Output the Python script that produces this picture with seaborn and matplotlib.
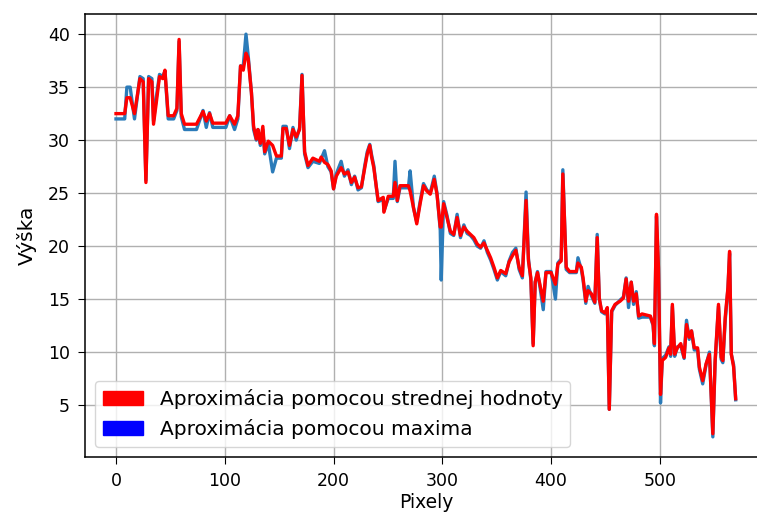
import matplotlib
matplotlib.use("Agg")
import matplotlib.pyplot as plt
import matplotlib.patches as mpatches
import seaborn as sns
import pandas as pd

x_pix = [
    0, 8, 10, 13, 17, 22, 25, 27.5, 30, 33,
    34.5, 37, 40, 43, 45, 48, 53, 56, 58, 60,
    63, 74, 80, 83, 86, 89, 101, 104.5, 109, 112,
    114.5, 117, 119.5, 121.5, 124.5, 126.5, 129, 130.5, 132.7, 135,
    136.7, 140, 144, 147.5, 152, 153.5, 156.5, 159.5, 162.7, 165.7,
    168.8, 171, 173.4, 176.5, 181, 187, 188.6, 191.7, 194.8, 197.8,
    200, 202.5, 207, 210, 213.3, 216.4, 219.4, 222.5, 225.6, 228.7,
    231, 233.3, 235, 237, 239.5, 241, 245.7, 246.3, 250.3, 254.9,
    256.5, 258.6, 261.1, 268.8, 270.4, 273.5, 276.5, 279.6, 282.7, 285.8,
    288.9, 292.6, 295.1, 298.1, 299, 301.2, 304.3, 307.4, 310.5, 313.6,
    316.7, 319.8, 322.8, 325.9, 329, 332.1, 335.2, 338.3, 341.4, 344.4,
    347.5, 350.6, 353.7, 358.3, 361.4, 364.5, 367.6, 370.6, 373.6, 377,
    379.2, 381.4, 383.5, 385.4, 387.5, 389.7, 392.8, 395.3, 400, 404,
    406.2, 409.3, 410.8, 413.9, 417, 423.2, 424.7, 427.8, 429.4, 431.9,
    434, 437.1, 440.2, 442.4, 444.3, 446.4, 449.5, 451.7, 453.5, 455.7,
    458.8, 463.4, 466.5, 469, 471.2, 473.7, 475.8, 478.3, 480.5, 483.6,
    491.3, 493.8, 495, 496.9, 498.7, 500.6, 502.2, 505.3, 508.4, 509.9,
    511.5, 513.6, 516.1, 519.2, 522.3, 524.5, 527, 529.1, 531.6, 534.7,
    536.3, 539.4, 542.5, 545.6, 548.7, 550.8, 553.9, 556.4, 557.9, 560.1,
    562.6, 564.1, 565.7, 567.8, 569.7,
]

vyska_stredna = [
    32.5, 32.5, 34.0, 34.0, 32.5, 35.8, 35.5, 26.0, 35.8, 35.5,
    31.5, 33.5, 36.0, 35.8, 36.6, 32.3, 32.3, 33.0, 39.5, 32.5,
    31.5, 31.5, 32.7, 31.8, 32.5, 31.6, 31.6, 32.3, 31.5, 32.3,
    37.0, 36.6, 38.2, 37.7, 34.5, 31.3, 30.1, 31.0, 29.7, 31.3,
    28.9, 29.9, 29.5, 28.5, 28.5, 31.1, 31.1, 29.5, 31.0, 30.3,
    31.0, 36.1, 28.9, 27.6, 28.3, 28.0, 28.4, 27.9, 27.7, 27.1,
    25.4, 26.6, 27.4, 26.8, 27.0, 26.0, 26.5, 25.5, 25.6, 27.4,
    28.7, 29.5, 28.4, 27.4, 25.5, 24.3, 24.6, 23.2, 24.7, 24.7,
    26.0, 24.3, 25.7, 25.7, 25.2, 23.6, 22.1, 24.0, 25.7, 25.2,
    24.9, 26.3, 24.9, 21.8, 21.8, 24.0, 22.7, 21.4, 21.1, 22.7,
    21.0, 21.8, 21.4, 21.1, 20.8, 20.2, 19.9, 20.3, 19.6, 18.9,
    18.0, 17.0, 17.7, 17.4, 18.5, 19.1, 19.6, 18.0, 17.2, 24.3,
    18.6, 17.0, 10.6, 16.6, 17.5, 16.4, 14.8, 17.5, 17.5, 16.4,
    18.3, 18.6, 26.8, 18.0, 17.6, 17.6, 18.4, 18.0, 17.0, 14.8,
    15.8, 15.5, 14.7, 20.8, 15.1, 13.9, 13.7, 14.2, 4.6, 13.9,
    14.5, 14.8, 15.1, 16.9, 14.8, 16.6, 14.8, 15.5, 13.4, 13.6,
    13.4, 12.6, 10.8, 23.0, 18.0, 6.0, 9.2, 9.5, 10.4, 9.8,
    14.5, 9.8, 10.4, 10.8, 9.5, 12.6, 11.4, 12.0, 10.4, 10.4,
    8.6, 7.3, 8.9, 9.8, 2.3, 9.2, 14.5, 9.5, 9.2, 13.3,
    16.1, 19.5, 9.8, 8.6, 5.6,
]

vyska_maxima = [
    32.0, 32.0, 35.0, 35.0, 32.0, 36.0, 35.8, 26.2, 36.0, 35.8,
    31.8, 34.0, 36.2, 36.0, 36.5, 32.0, 32.0, 32.8, 39.3, 32.2,
    31.0, 31.0, 32.8, 31.2, 32.6, 31.2, 31.2, 32.3, 31.0, 32.0,
    37.0, 37.0, 40.0, 38.0, 34.5, 31.0, 30.0, 31.0, 29.5, 31.0,
    28.7, 29.7, 27.0, 28.3, 28.3, 31.3, 31.3, 29.2, 31.2, 30.0,
    31.2, 36.2, 28.7, 27.4, 28.0, 27.8, 28.2, 29.0, 27.5, 27.0,
    25.4, 26.8, 28.0, 26.6, 27.2, 25.8, 26.6, 25.3, 25.5, 27.6,
    28.9, 29.6, 28.6, 27.6, 25.4, 24.2, 24.4, 23.3, 24.5, 24.5,
    28.0, 24.2, 25.5, 25.5, 27.1, 23.6, 22.3, 24.2, 25.9, 25.3,
    25.0, 26.6, 25.0, 21.5, 16.8, 24.2, 22.9, 21.2, 21.0, 23.0,
    20.8, 22.0, 21.2, 21.0, 20.6, 20.0, 19.8, 20.5, 19.4, 18.7,
    17.8, 16.8, 17.6, 17.2, 18.6, 19.4, 19.8, 17.8, 17.0, 25.1,
    18.8, 16.8, 10.8, 16.6, 17.6, 16.2, 14.0, 17.6, 17.6, 15.0,
    18.4, 18.8, 27.2, 17.8, 17.5, 17.5, 18.9, 17.8, 16.8, 14.6,
    16.2, 15.3, 14.6, 21.1, 15.0, 13.8, 13.6, 14.0, 4.6, 13.8,
    14.4, 14.9, 15.2, 17.0, 14.2, 16.6, 14.5, 15.7, 13.2, 13.3,
    13.3, 12.5, 10.6, 22.8, 17.8, 5.2, 9.4, 9.7, 10.5, 9.6,
    14.3, 9.6, 10.5, 10.6, 9.4, 13.0, 11.2, 12.0, 10.2, 10.2,
    8.4, 7.0, 8.8, 10.0, 2.0, 9.0, 14.3, 9.3, 9.0, 13.0,
    16.0, 19.3, 9.8, 8.8, 5.5,
]

legend_labels = ["Aproximácia pomocou strednej hodnoty", "Aproximácia pomocou maxima"]
x_label = "Pixely"
y_label = "Výška"

df = pd.DataFrame({"x": x_pix, "mean": vyska_stredna, "max": vyska_maxima})

plt.rcParams["font.family"] = ["DejaVu Sans"]
plt.rcParams["font.size"] = 12

fig = plt.figure(figsize=(7.57, 5.16), dpi=100)
ax = fig.add_axes([85 / 757, 1 - 457 / 516, (767 - 85) / 757, (457 - 14) / 516])

sns.lineplot(data=df, x="x", y="max", ax=ax, color="#2b7bb9", linewidth=2.4, sort=False)
sns.lineplot(data=df, x="x", y="mean", ax=ax, color="red", linewidth=2.4, sort=False)

ax.set_xlim(-28.5, 598.5)
ax.set_ylim(0.1, 41.9)
ax.set_xticks([0, 100, 200, 300, 400, 500])
ax.set_yticks([5, 10, 15, 20, 25, 30, 35, 40])
ax.grid(True, color="#b0b0b0", linewidth=1.0)
ax.set_axisbelow(True)
ax.tick_params(labelsize=12.5, length=5, pad=6)
ax.set_xlabel(x_label, fontsize=13.5, labelpad=2)
ax.set_ylabel(y_label, fontsize=14.5, labelpad=8)
for s in ax.spines.values():
    s.set_linewidth(1.1)

handles = [
    mpatches.Patch(color="red", label=legend_labels[0]),
    mpatches.Patch(color="blue", label=legend_labels[1]),
]
ax.legend(handles=handles, loc="lower left", fontsize=14.5)

fig.savefig("out.png", dpi=100)
